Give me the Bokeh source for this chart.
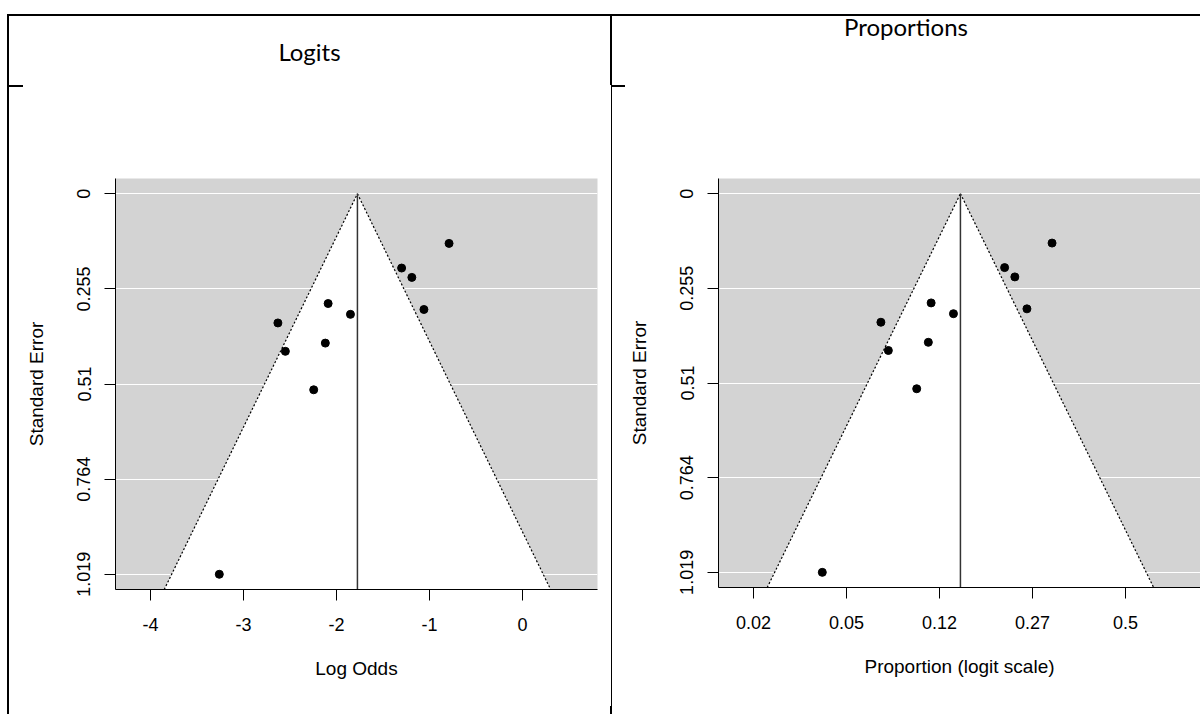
import numpy as np
from bokeh.plotting import figure
from bokeh.models import Range1d, FixedTicker, Div, Spacer
from bokeh.layouts import row, column
from bokeh.embed import file_html
from bokeh.resources import INLINE

# ---------------- data ----------------
logit_est = [-0.79, -1.30, -1.19, -1.06, -2.09, -1.85, -2.63, -2.12, -2.55, -2.245, -3.26]
std_err = [0.133, 0.199, 0.224, 0.310, 0.294, 0.323, 0.346, 0.400, 0.422, 0.525, 1.019]
pooled_logit = -1.775
se_ticks = [0.0, 0.2548, 0.5095, 0.7643, 1.019]
se_tick_labels = ["0", "0.255", "0.51", "0.764", "1.019"]
logit_ticks = [-4, -3, -2, -1, 0]
logit_tick_labels = ["-4", "-3", "-2", "-1", "0"]
prop_tick_labels = ["0.02", "0.05", "0.12", "0.27", "0.5"]
panel_titles = ["Logits", "Proportions"]
x_titles = ["Log Odds", "Proportion (logit scale)"]
y_title = "Standard Error"

TXT = "Liberation Sans"
X_LO, X_SPAN_PER_PX = -4.376, 5.182 / 482.0


def funnel(width, height, frame_w, frame_h, left, top, tick_labels, xlab):
    se_max = max(std_err)
    y_bot, y_top = 1.04 * se_max, -0.04 * se_max
    x_hi = X_LO + frame_w * X_SPAN_PER_PX
    p = figure(width=width, height=height, output_backend="svg", toolbar_location=None,
               x_range=Range1d(X_LO, x_hi), y_range=Range1d(y_bot, y_top),
               min_border_left=left, min_border_top=top,
               min_border_right=width - left - frame_w,
               min_border_bottom=height - top - frame_h,
               background_fill_color="#d3d3d3", border_fill_color="white",
               margin=0)
    p.outline_line_color = None
    p.xgrid.visible = False
    p.ygrid.ticker = FixedTicker(ticks=se_ticks)
    p.ygrid.grid_line_color = "white"
    p.ygrid.grid_line_width = 1.2

    # funnel region (white) and its dotted edges
    b = pooled_logit
    xl, xr = b - 1.96 * y_bot, b + 1.96 * y_bot
    p.patch([xl, b, xr], [y_bot, 0, y_bot], fill_color="white", line_color=None)
    p.line([xl, b], [y_bot, 0], line_color="black", line_dash="2 2", line_width=1.2)
    p.line([b, xr], [0, y_bot], line_color="black", line_dash="2 2", line_width=1.2)
    p.line([b, b], [0, y_bot], line_color="#333333", line_width=1.5)

    p.scatter(logit_est, std_err, size=8, color="black")

    for ax in (p.xaxis, p.yaxis):
        ax.axis_line_color = "black"
        ax.major_tick_line_color = "black"
        ax.major_tick_out = 11
        ax.major_tick_in = 0
        ax.minor_tick_line_color = None
        ax.major_label_text_font = TXT
        ax.major_label_text_font_size = "18px"
        ax.major_label_text_color = "black"
        ax.axis_label_text_font = TXT
        ax.axis_label_text_font_size = "19px"
        ax.axis_label_text_font_style = "normal"
        ax.axis_label_text_color = "black"

    p.xaxis.ticker = FixedTicker(ticks=logit_ticks)
    p.xaxis.major_label_overrides = dict(zip(logit_ticks, tick_labels))
    p.xaxis.axis_label = xlab
    p.xaxis.major_label_standoff = 17
    p.xaxis.axis_label_standoff = 24

    p.yaxis.ticker = FixedTicker(ticks=se_ticks)
    p.yaxis.major_label_overrides = dict(zip(se_ticks, se_tick_labels))
    p.yaxis.major_label_orientation = "vertical"
    p.yaxis.axis_label = y_title
    p.yaxis.major_label_standoff = 14
    p.yaxis.axis_label_standoff = 28
    return p


def bar(w, h):
    return Div(text="", width=w, height=h, margin=0,
               styles={"background-color": "black"})


def gap(w, h):
    return Spacer(width=w, height=h, margin=0)


def title_div(text, w, h, pad):
    html = (f'<div style="width:{w}px;padding-top:{pad}px;line-height:22px;text-align:center;'
            f'font-family:Lato;font-size:24px;color:black;">{text}</div>')
    return Div(text=html, width=w, height=h, margin=0)


LW, RW, FH = 601, 588, 627
p1 = funnel(LW, FH, 482, 411, 106, 91, logit_tick_labels, x_titles[0])
p2 = funnel(RW, FH, 482, 409, 106, 91, prop_tick_labels, x_titles[1])

left_cell = column(
    title_div(panel_titles[0], LW, 69, 25),
    row(bar(14, 2), gap(LW - 14, 2), spacing=0),
    p1, spacing=0)
right_cell = column(
    title_div(panel_titles[1], RW, 69, 0),
    row(bar(13, 2), gap(RW - 13, 2), spacing=0),
    p2, spacing=0)
divider = column(bar(2, 69), row(gap(1, 621), bar(1, 621), spacing=0), bar(2, 8), spacing=0)

layout = column(
    gap(1200, 14),
    row(gap(7, 2), bar(1193, 2), spacing=0),
    row(gap(7, 698), bar(2, 698), left_cell, divider, right_cell, spacing=0),
    spacing=0)

open("out.html", "w").write(file_html(layout, INLINE))
